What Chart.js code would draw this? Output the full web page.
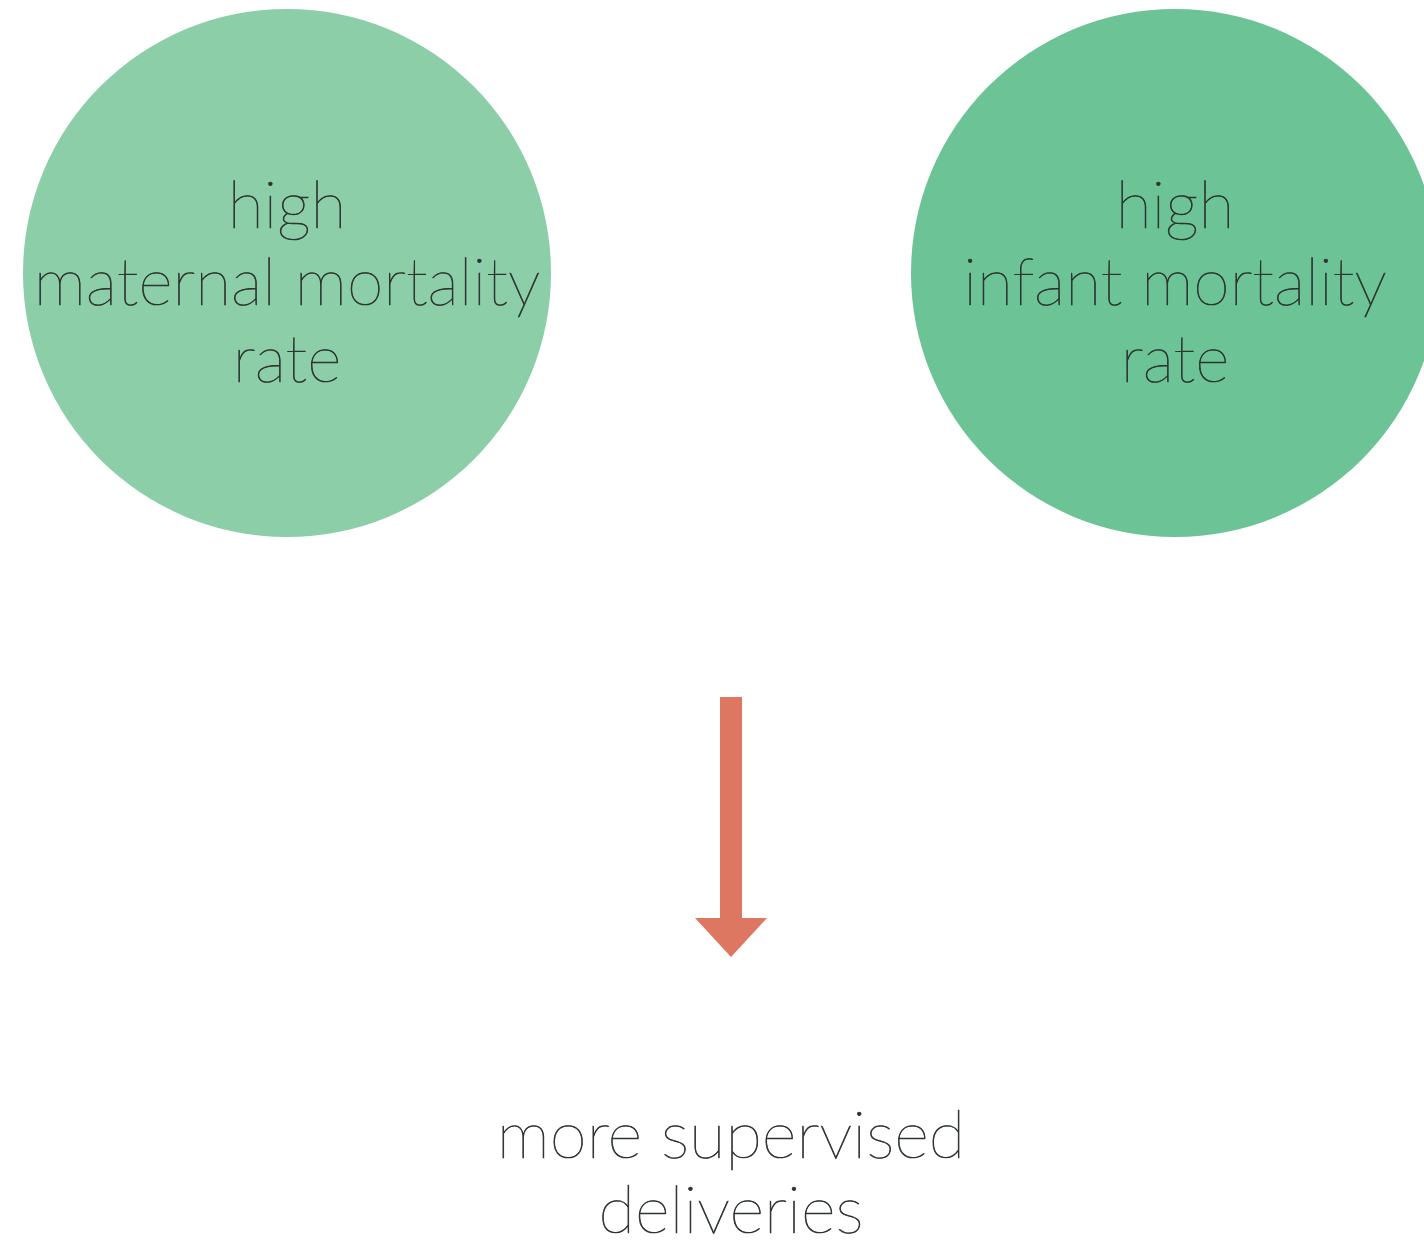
<!DOCTYPE html>
<html>
<head>
<meta charset="utf-8">
<title>more supervised deliveries</title>
<script src="https://cdn.jsdelivr.net/npm/chart.js@4/dist/chart.umd.min.js"></script>
<style>
  html, body { margin: 0; padding: 0; background: #fff; }
  #wrap { width: 1424px; height: 1244px; }
</style>
</head>
<body>
<div id="wrap"><canvas id="diagrama"></canvas></div>
<script>
// Diagrama: duas causas (círculos) e uma consequência (seta + texto)

// Nós do diagrama (unidades do plano 0..1424 x 0..1244)
const nodeLabels = [
  ['high', 'maternal mortality', 'rate'],
  ['high', 'infant mortality', 'rate']
];
const nodeX = [287, 1175];
const nodeY = [273, 273];
const nodeR = [264, 264];
const nodeColors = ['#8bcea7', '#6bc396'];

// Seta (início e fim do eixo, ponta)
const arrowX = [731, 731];
const arrowY = [697, 957];

// Texto de resultado
const resultLabel = ['more supervised', 'deliveries'];
const resultX = 731;
const resultY = 1158;

const textColor = '#2e3430';
const arrowColor = '#de7761';

// escreve uma linha com um traço fino para engrossar a fonte
function escrever(ctx, t, x, y) {
  ctx.fillText(t, x, y);
  ctx.strokeText(t, x, y);
}

// Plugin para escrever os textos nos nós e no resultado
const textoPlugin = {
  id: 'textos',
  afterDatasetsDraw(chart) {
    const { ctx, scales: { x, y } } = chart;
    ctx.save();
    ctx.fillStyle = textColor;
    ctx.strokeStyle = textColor;
    ctx.lineWidth = 0.7;
    ctx.textAlign = 'center';
    ctx.textBaseline = 'alphabetic';
    ctx.font = '200 66px Lato, "Open Sans", sans-serif';
    nodeLabels.forEach((linhas, i) => {
      const cx = x.getPixelForValue(nodeX[i]);
      const base = y.getPixelForValue(nodeY[i]);
      linhas.forEach((t, j) => {
        escrever(ctx, t, cx, base + (j - 1) * 77 + 32);
      });
    });
    ctx.font = '200 67px Lato, "Open Sans", sans-serif';
    const rx = x.getPixelForValue(resultX);
    resultLabel.forEach((t, j) => {
      escrever(ctx, t, rx, y.getPixelForValue(resultY) + j * 75);
    });
    ctx.restore();
  }
};

// Plugin para a ponta da seta
const setaPlugin = {
  id: 'seta',
  afterDatasetsDraw(chart) {
    const { ctx, scales: { x, y } } = chart;
    const px = x.getPixelForValue(arrowX[1]);
    const tip = y.getPixelForValue(arrowY[1]);
    ctx.save();
    ctx.fillStyle = arrowColor;
    ctx.beginPath();
    ctx.moveTo(px - 36, tip - 39);
    ctx.lineTo(px + 36, tip - 39);
    ctx.lineTo(px, tip);
    ctx.closePath();
    ctx.fill();
    ctx.restore();
  }
};

const ctx = document.getElementById('diagrama');

new Chart(ctx, {
  type: 'bubble',
  data: {
    datasets: [
      {
        type: 'bubble',
        data: nodeX.map((v, i) => ({ x: v, y: nodeY[i], r: nodeR[i] })),
        backgroundColor: nodeColors,
        borderWidth: 0,
        hoverRadius: 0,
        clip: false
      },
      {
        type: 'line',
        data: [
          { x: arrowX[0], y: arrowY[0] },
          { x: arrowX[1], y: arrowY[1] - 38 }
        ],
        borderColor: arrowColor,
        borderWidth: 22,
        borderCapStyle: 'butt',
        pointRadius: 0,
        fill: false,
        clip: false
      }
    ]
  },
  options: {
    responsive: true,
    maintainAspectRatio: false,
    animation: false,
    layout: { padding: 0, autoPadding: false },
    plugins: {
      legend: { display: false },
      tooltip: { enabled: false }
    },
    scales: {
      x: { type: 'linear', min: 0, max: 1424, display: false },
      y: { type: 'linear', min: 0, max: 1244, reverse: true, display: false }
    }
  },
  plugins: [setaPlugin, textoPlugin]
});
</script>
</body>
</html>
